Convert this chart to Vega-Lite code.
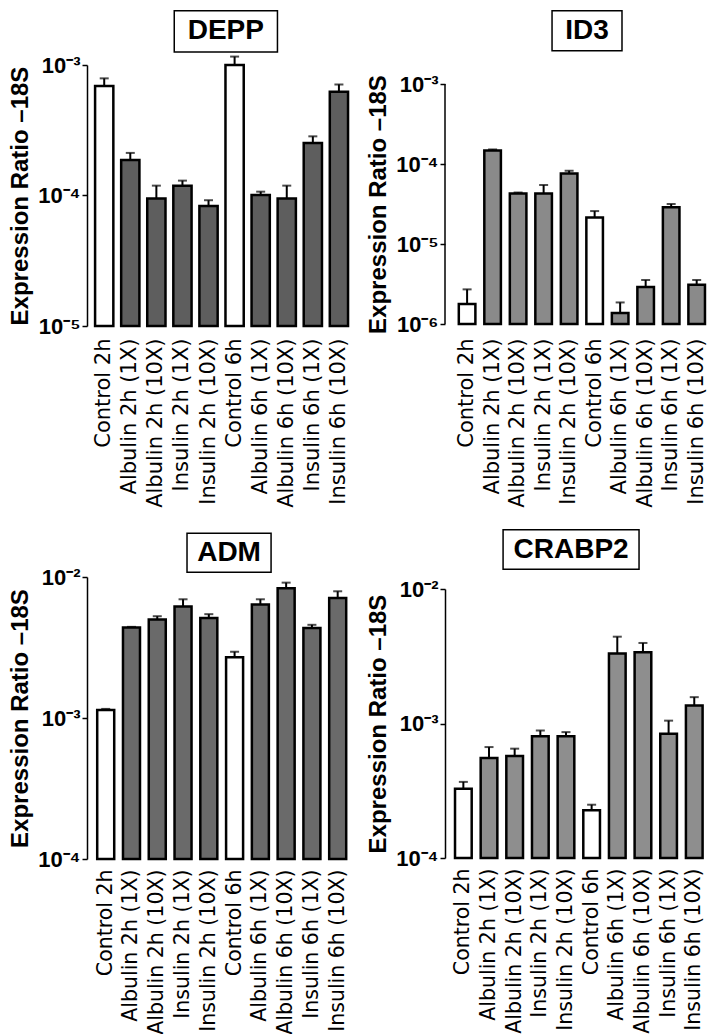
{
  "$schema": "https://vega.github.io/schema/vega-lite/v6.json",
  "background": "white",
  "padding": {"left": 8, "top": 9, "right": 0, "bottom": 0},
  "config": {
    "view": {"stroke": null},
    "font": "Liberation Sans",
    "axis": {"labelColor": "black", "titleColor": "black", "domainColor": "black", "tickColor": "black", "grid": false}
  },
  "datasets": {
    "DEPP": [
      {"label": "Control 2h", "group": "Control", "value": 0.00069, "upper": 0.00079},
      {"label": "Albulin 2h (1X)", "group": "Treated", "value": 0.000187, "upper": 0.000212},
      {"label": "Albulin 2h (10X)", "group": "Treated", "value": 0.000095, "upper": 0.000119},
      {"label": "Insulin 2h (1X)", "group": "Treated", "value": 0.000119, "upper": 0.00013},
      {"label": "Insulin 2h (10X)", "group": "Treated", "value": 0.000083, "upper": 0.000092},
      {"label": "Control 6h", "group": "Control", "value": 0.001, "upper": 0.00116},
      {"label": "Albulin 6h (1X)", "group": "Treated", "value": 0.000101, "upper": 0.000107},
      {"label": "Albulin 6h (10X)", "group": "Treated", "value": 0.000095, "upper": 0.000119},
      {"label": "Insulin 6h (1X)", "group": "Treated", "value": 0.000252, "upper": 0.000284},
      {"label": "Insulin 6h (10X)", "group": "Treated", "value": 0.000624, "upper": 0.00071}
    ],
    "ID3": [
      {"label": "Control 2h", "group": "Control", "value": 0.00000178, "upper": 0.00000271},
      {"label": "Albulin 2h (1X)", "group": "Treated", "value": 0.000148, "upper": 0.000152},
      {"label": "Albulin 2h (10X)", "group": "Treated", "value": 0.0000429, "upper": 0.000044},
      {"label": "Insulin 2h (1X)", "group": "Treated", "value": 0.0000429, "upper": 0.0000546},
      {"label": "Insulin 2h (10X)", "group": "Treated", "value": 0.0000763, "upper": 0.0000825},
      {"label": "Control 6h", "group": "Control", "value": 0.0000215, "upper": 0.0000258},
      {"label": "Albulin 6h (1X)", "group": "Treated", "value": 0.00000137, "upper": 0.00000186},
      {"label": "Albulin 6h (10X)", "group": "Treated", "value": 0.0000029, "upper": 0.00000355},
      {"label": "Insulin 6h (1X)", "group": "Treated", "value": 0.0000287, "upper": 0.0000316},
      {"label": "Insulin 6h (10X)", "group": "Treated", "value": 0.0000031, "upper": 0.00000355}
    ],
    "ADM": [
      {"label": "Control 2h", "group": "Control", "value": 0.00114, "upper": 0.00116},
      {"label": "Albulin 2h (1X)", "group": "Treated", "value": 0.00439, "upper": 0.00443},
      {"label": "Albulin 2h (10X)", "group": "Treated", "value": 0.005, "upper": 0.00527},
      {"label": "Insulin 2h (1X)", "group": "Treated", "value": 0.00618, "upper": 0.00695},
      {"label": "Insulin 2h (10X)", "group": "Treated", "value": 0.00511, "upper": 0.00545},
      {"label": "Control 6h", "group": "Control", "value": 0.0027, "upper": 0.00295},
      {"label": "Albulin 6h (1X)", "group": "Treated", "value": 0.00638, "upper": 0.00695},
      {"label": "Albulin 6h (10X)", "group": "Treated", "value": 0.00832, "upper": 0.00912},
      {"label": "Insulin 6h (1X)", "group": "Treated", "value": 0.00434, "upper": 0.00458},
      {"label": "Insulin 6h (10X)", "group": "Treated", "value": 0.0071, "upper": 0.00792}
    ],
    "CRABP2": [
      {"label": "Control 2h", "group": "Control", "value": 0.000327, "upper": 0.000368},
      {"label": "Albulin 2h (1X)", "group": "Treated", "value": 0.000555, "upper": 0.000668},
      {"label": "Albulin 2h (10X)", "group": "Treated", "value": 0.000573, "upper": 0.00065},
      {"label": "Insulin 2h (1X)", "group": "Treated", "value": 0.000805, "upper": 0.000887},
      {"label": "Insulin 2h (10X)", "group": "Treated", "value": 0.000805, "upper": 0.000863},
      {"label": "Control 6h", "group": "Control", "value": 0.000226, "upper": 0.000249},
      {"label": "Albulin 6h (1X)", "group": "Treated", "value": 0.00331, "upper": 0.00442},
      {"label": "Albulin 6h (10X)", "group": "Treated", "value": 0.00339, "upper": 0.00397},
      {"label": "Insulin 6h (1X)", "group": "Treated", "value": 0.00084, "upper": 0.00105},
      {"label": "Insulin 6h (10X)", "group": "Treated", "value": 0.00136, "upper": 0.00157}
    ]
  },
  "hconcat": [
    {
      "spacing": 24,
      "vconcat": [
        {
          "width": 266, "height": 261,
          "resolve": {"scale": {"x": "independent"}},
          "layer": [
            {"data": {"values": [{}]}, "mark": {"type": "rect", "fill": "white", "stroke": "black", "strokeWidth": 1.5},
             "encoding": {"x": {"datum": 0.328, "type": "quantitative", "scale": {"domain": [0, 1]}, "axis": null}, "x2": {"datum": 0.716},
                          "y": {"datum": 0.0026, "type": "quantitative", "scale": {"type": "log", "domain": [0.00001, 0.001], "nice": false}}, "y2": {"datum": 0.00126}}},
            {"data": {"values": [{}]}, "mark": {"type": "text", "text": "DEPP", "fontSize": 28, "fontWeight": "bold", "align": "center", "baseline": "middle", "color": "black"},
             "encoding": {"x": {"datum": 0.522, "type": "quantitative", "scale": {"domain": [0, 1]}, "axis": null},
                          "y": {"datum": 0.00181, "type": "quantitative", "scale": {"type": "log", "domain": [0.00001, 0.001], "nice": false}}}},
            {
              "data": {"name": "DEPP"},
              "encoding": {
                "x": {"field": "label", "type": "nominal", "sort": null, "scale": {"paddingInner": 0.3, "paddingOuter": 0.25, "align": 0.62},
                      "axis": {"title": null, "labelAngle": -90, "domain": false, "ticks": false, "labelFont": "DejaVu Sans", "labelFontSize": 21, "labelPadding": 12, "labelLimit": 300}}
              },
              "layer": [
                {"mark": {"type": "bar", "stroke": "black", "strokeWidth": 2.5},
                 "encoding": {
                   "y": {"field": "value", "type": "quantitative", "scale": {"type": "log", "domain": [0.00001, 0.001], "nice": false},
                         "axis": {"values": [0.00001, 0.0001, 0.001], "labelExpr": "'10⁻' + ['⁰','¹','²','³','⁴','⁵','⁶'][round(-log(datum.value)/LN10)]", "title": "Expression Ratio –18S", "tickSize": 5, "tickWidth": 1.5, "domainWidth": 1.5, "labelFontSize": 22, "labelFontWeight": "bold", "titleFontSize": 24, "titleFontWeight": "bold", "titlePadding": 5, "labelPadding": 2}},
                   "y2": {"datum": 0.00001},
                   "fill": {"condition": {"test": "datum.group === 'Control'", "value": "white"}, "value": "#5e5e5e"}
                 }},
                {"mark": {"type": "rule", "strokeWidth": 2, "color": "black"},
                 "encoding": {"y": {"field": "value", "type": "quantitative"}, "y2": {"field": "upper"}}},
                {"mark": {"type": "tick", "thickness": 2, "size": 9, "color": "black"},
                 "encoding": {"y": {"field": "upper", "type": "quantitative"}}}
              ]
            }
          ]
        },
        {
          "width": 266, "height": 282,
          "resolve": {"scale": {"x": "independent"}},
          "layer": [
            {"data": {"values": [{}]}, "mark": {"type": "rect", "fill": "white", "stroke": "black", "strokeWidth": 1.5},
             "encoding": {"x": {"datum": 0.376, "type": "quantitative", "scale": {"domain": [0, 1]}, "axis": null}, "x2": {"datum": 0.692},
                          "y": {"datum": 0.0204, "type": "quantitative", "scale": {"type": "log", "domain": [0.0001, 0.01], "nice": false}}, "y2": {"datum": 0.0108}}},
            {"data": {"values": [{}]}, "mark": {"type": "text", "text": "ADM", "fontSize": 28, "fontWeight": "bold", "align": "center", "baseline": "middle", "color": "black"},
             "encoding": {"x": {"datum": 0.534, "type": "quantitative", "scale": {"domain": [0, 1]}, "axis": null},
                          "y": {"datum": 0.0148, "type": "quantitative", "scale": {"type": "log", "domain": [0.0001, 0.01], "nice": false}}}},
            {
              "data": {"name": "ADM"},
              "encoding": {
                "x": {"field": "label", "type": "nominal", "sort": null, "scale": {"paddingInner": 0.34, "paddingOuter": 0.33, "align": 0.6},
                      "axis": {"title": null, "labelAngle": -90, "domain": false, "ticks": false, "labelFont": "DejaVu Sans", "labelFontSize": 20.5, "labelPadding": 10, "labelLimit": 300}}
              },
              "layer": [
                {"mark": {"type": "bar", "stroke": "black", "strokeWidth": 2.5},
                 "encoding": {
                   "y": {"field": "value", "type": "quantitative", "scale": {"type": "log", "domain": [0.0001, 0.01], "nice": false},
                         "axis": {"values": [0.0001, 0.001, 0.01], "labelExpr": "'10⁻' + ['⁰','¹','²','³','⁴','⁵','⁶'][round(-log(datum.value)/LN10)]", "title": "Expression Ratio –18S", "tickSize": 5, "tickWidth": 1.5, "domainWidth": 1.5, "labelFontSize": 22, "labelFontWeight": "bold", "titleFontSize": 24, "titleFontWeight": "bold", "titlePadding": 5, "labelPadding": 2}},
                   "y2": {"datum": 0.0001},
                   "fill": {"condition": {"test": "datum.group === 'Control'", "value": "white"}, "value": "#6a6a6a"}
                 }},
                {"mark": {"type": "rule", "strokeWidth": 2, "color": "black"},
                 "encoding": {"y": {"field": "value", "type": "quantitative"}, "y2": {"field": "upper"}}},
                {"mark": {"type": "tick", "thickness": 2, "size": 9, "color": "black"},
                 "encoding": {"y": {"field": "upper", "type": "quantitative"}}}
              ]
            }
          ]
        }
      ]
    },
    {
      "spacing": 20,
      "vconcat": [
        {
          "width": 263, "height": 259,
          "resolve": {"scale": {"x": "independent"}},
          "layer": [
            {"data": {"values": [{}]}, "mark": {"type": "rect", "fill": "white", "stroke": "black", "strokeWidth": 1.5},
             "encoding": {"x": {"datum": 0.407, "type": "quantitative", "scale": {"domain": [0, 1]}, "axis": null}, "x2": {"datum": 0.673},
                          "y": {"datum": 0.00825, "type": "quantitative", "scale": {"type": "log", "domain": [0.000001, 0.001728], "nice": false}}, "y2": {"datum": 0.00261}}},
            {"data": {"values": [{}]}, "mark": {"type": "text", "text": "ID3", "fontSize": 28, "fontWeight": "bold", "align": "center", "baseline": "middle", "color": "black"},
             "encoding": {"x": {"datum": 0.54, "type": "quantitative", "scale": {"domain": [0, 1]}, "axis": null},
                          "y": {"datum": 0.00463, "type": "quantitative", "scale": {"type": "log", "domain": [0.000001, 0.001728], "nice": false}}}},
            {"data": {"values": [{}]}, "mark": {"type": "rule", "strokeWidth": 1.5, "color": "black"},
             "encoding": {"x": {"datum": 0, "type": "quantitative", "scale": {"domain": [0, 1]}, "axis": null},
                          "y": {"datum": 0.000001, "type": "quantitative", "scale": {"type": "log", "domain": [0.000001, 0.001728], "nice": false}}, "y2": {"datum": 0.001}}},
            {
              "data": {"name": "ID3"},
              "encoding": {
                "x": {"field": "label", "type": "nominal", "sort": null, "scale": {"paddingInner": 0.35, "paddingOuter": 0.33, "align": 0.82},
                      "axis": {"title": null, "labelAngle": -90, "domain": false, "ticks": false, "labelFont": "DejaVu Sans", "labelFontSize": 21, "labelPadding": 14, "labelLimit": 300}}
              },
              "layer": [
                {"mark": {"type": "bar", "stroke": "black", "strokeWidth": 2.5},
                 "encoding": {
                   "y": {"field": "value", "type": "quantitative", "scale": {"type": "log", "domain": [0.000001, 0.001728], "nice": false},
                         "axis": {"values": [0.000001, 0.00001, 0.0001, 0.001], "labelExpr": "'10⁻' + ['⁰','¹','²','³','⁴','⁵','⁶'][round(-log(datum.value)/LN10)]", "title": "Expression Ratio –18S", "titleY": 139, "domain": false, "tickSize": 5, "tickWidth": 1.5, "labelFontSize": 22, "labelFontWeight": "bold", "titleFontSize": 24, "titleFontWeight": "bold", "titlePadding": 5, "labelPadding": 2}},
                   "y2": {"datum": 0.000001},
                   "fill": {"condition": {"test": "datum.group === 'Control'", "value": "white"}, "value": "#8a8a8a"}
                 }},
                {"mark": {"type": "rule", "strokeWidth": 2, "color": "black"},
                 "encoding": {"y": {"field": "value", "type": "quantitative"}, "y2": {"field": "upper"}}},
                {"mark": {"type": "tick", "thickness": 2, "size": 9, "color": "black"},
                 "encoding": {"y": {"field": "upper", "type": "quantitative"}}}
              ]
            }
          ]
        },
        {
          "width": 264, "height": 269,
          "resolve": {"scale": {"x": "independent"}},
          "layer": [
            {"data": {"values": [{}]}, "mark": {"type": "rect", "fill": "white", "stroke": "black", "strokeWidth": 1.5},
             "encoding": {"x": {"datum": 0.22, "type": "quantitative", "scale": {"domain": [0, 1]}, "axis": null}, "x2": {"datum": 0.735},
                          "y": {"datum": 0.0276, "type": "quantitative", "scale": {"type": "log", "domain": [0.0001, 0.01], "nice": false}}, "y2": {"datum": 0.014}}},
            {"data": {"values": [{}]}, "mark": {"type": "text", "text": "CRABP2", "fontSize": 28, "fontWeight": "bold", "align": "center", "baseline": "middle", "color": "black"},
             "encoding": {"x": {"datum": 0.4775, "type": "quantitative", "scale": {"domain": [0, 1]}, "axis": null},
                          "y": {"datum": 0.0196, "type": "quantitative", "scale": {"type": "log", "domain": [0.0001, 0.01], "nice": false}}}},
            {
              "data": {"name": "CRABP2"},
              "encoding": {
                "x": {"field": "label", "type": "nominal", "sort": null, "scale": {"paddingInner": 0.35, "paddingOuter": 0.32, "align": 0.61},
                      "axis": {"title": null, "labelAngle": -90, "domain": false, "ticks": false, "labelFont": "DejaVu Sans", "labelFontSize": 20.5, "labelPadding": 10, "labelLimit": 300}}
              },
              "layer": [
                {"mark": {"type": "bar", "stroke": "black", "strokeWidth": 2.5},
                 "encoding": {
                   "y": {"field": "value", "type": "quantitative", "scale": {"type": "log", "domain": [0.0001, 0.01], "nice": false},
                         "axis": {"values": [0.0001, 0.001, 0.01], "labelExpr": "'10⁻' + ['⁰','¹','²','³','⁴','⁵','⁶'][round(-log(datum.value)/LN10)]", "title": "Expression Ratio –18S", "tickSize": 5, "tickWidth": 1.5, "domainWidth": 1.5, "labelFontSize": 22, "labelFontWeight": "bold", "titleFontSize": 24, "titleFontWeight": "bold", "titlePadding": 5, "labelPadding": 2}},
                   "y2": {"datum": 0.0001},
                   "fill": {"condition": {"test": "datum.group === 'Control'", "value": "white"}, "value": "#8e8e8e"}
                 }},
                {"mark": {"type": "rule", "strokeWidth": 2, "color": "black"},
                 "encoding": {"y": {"field": "value", "type": "quantitative"}, "y2": {"field": "upper"}}},
                {"mark": {"type": "tick", "thickness": 2, "size": 9, "color": "black"},
                 "encoding": {"y": {"field": "upper", "type": "quantitative"}}}
              ]
            }
          ]
        }
      ]
    }
  ],
  "spacing": 13
}
